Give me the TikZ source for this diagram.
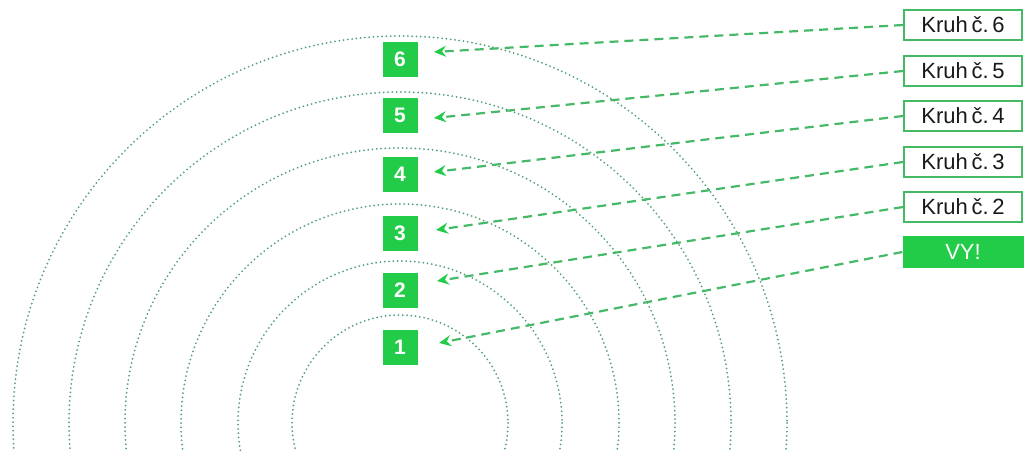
\documentclass[tikz,border=0pt]{standalone}
\usepackage{fontspec}
\setmainfont{Liberation Sans}
\usetikzlibrary{arrows.meta}
\definecolor{boxgreen}{RGB}{34,204,72}
\definecolor{edgegreen}{RGB}{70,185,100}
\definecolor{dashgreen}{RGB}{70,185,105}
\definecolor{dotcol}{RGB}{85,160,120}
\definecolor{txtcol}{RGB}{25,25,25}
\tikzset{
  numbox/.style={fill=boxgreen, text=white, font=\bfseries\fontsize{21}{21}\selectfont, minimum width=35pt, minimum height=35pt, inner sep=0pt},
  lblbox/.style={draw=edgegreen, line width=2pt, fill=white, text=txtcol, font=\fontsize{22}{22}\selectfont, minimum width=118pt, minimum height=30pt, inner sep=0pt},
  youbox/.style={fill=boxgreen, text=white, font=\fontsize{22}{22}\selectfont, minimum width=121pt, minimum height=32pt, inner sep=0pt},
  ring/.style={draw=dotcol, line width=2pt, line cap=round, dash pattern=on 0pt off 4.3pt},
  pointer/.style={draw=dashgreen, line width=2.2pt, dash pattern=on 9pt off 6pt, -{Stealth[length=12pt, width=11pt, fill=boxgreen, color=boxgreen, inset=4pt]}}
}
\begin{document}
\begin{tikzpicture}[x=1pt, y=-1pt]
\useasboundingbox (0,0) rectangle (1027,450);
\begin{scope}
\clip (0,0) rectangle (1027,450);
\coordinate (c) at (400,423);
\foreach \r in {108,162,219,275,331,387} {
  \draw[ring] (c) circle[radius=\r];
}
\end{scope}
\node[numbox] (n6) at (400,59) {6};
\node[numbox] (n5) at (400,115) {5};
\node[numbox] (n4) at (400,174) {4};
\node[numbox] (n3) at (400,233) {3};
\node[numbox] (n2) at (400,290) {2};
\node[numbox] (n1) at (400,347) {1};
\node[lblbox] (k6) at (963,25) {Kruh\,č.\,6};
\node[lblbox] (k5) at (963,71) {Kruh\,č.\,5};
\node[lblbox] (k4) at (963,116) {Kruh\,č.\,4};
\node[lblbox] (k3) at (963,162) {Kruh\,č.\,3};
\node[lblbox] (k2) at (963,207) {Kruh\,č.\,2};
\node[youbox] (vy) at (963,252) {VY!};
\coordinate (t6) at (434,52);
\coordinate (t5) at (434,118);
\coordinate (t4) at (434,172);
\coordinate (t3) at (436,230);
\coordinate (t2) at (437,281);
\coordinate (t1) at (439,343);
\draw[pointer] (k6.west) -- (t6);
\draw[pointer] (k5.west) -- (t5);
\draw[pointer] (k4.west) -- (t4);
\draw[pointer] (k3.west) -- (t3);
\draw[pointer] (k2.west) -- (t2);
\draw[pointer] (vy.west) -- (t1);
\end{tikzpicture}
\end{document}
